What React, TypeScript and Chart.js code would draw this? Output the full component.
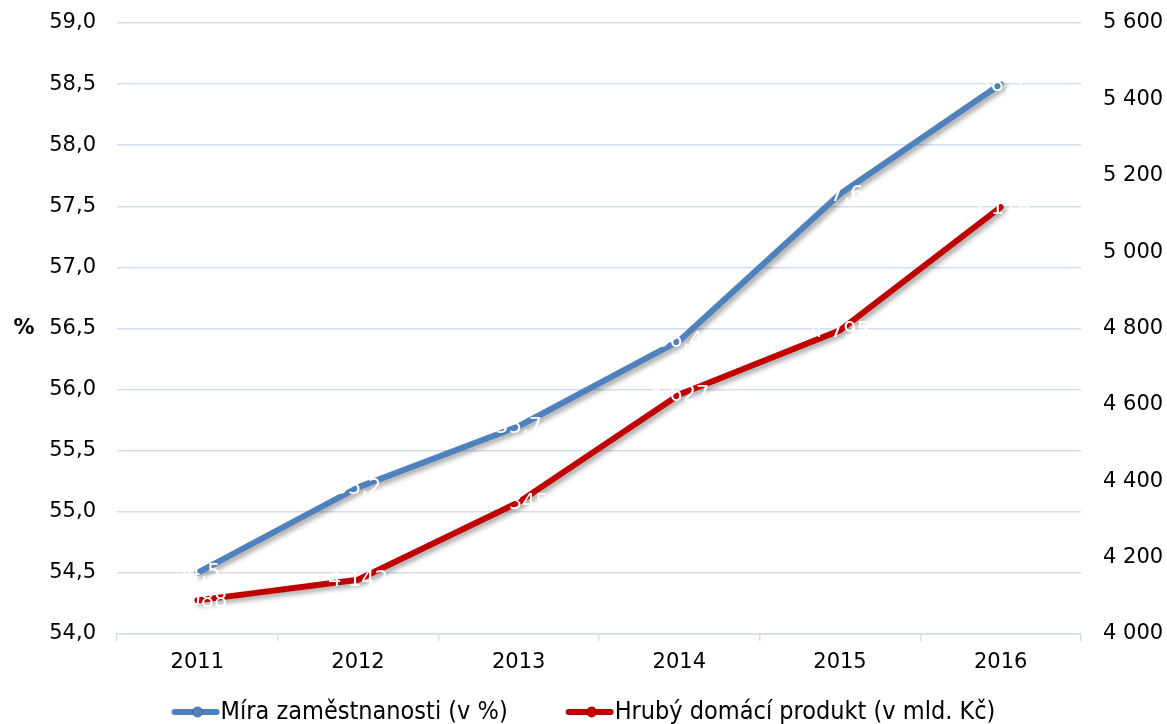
import React, { useEffect, useRef } from 'react';
import { Chart, registerables } from 'chart.js';

Chart.register(...registerables);

const years = ['2011', '2012', '2013', '2014', '2015', '2016'];
const employment = [54.5, 55.2, 55.7, 56.4, 57.6, 58.5];
const gdp = [4088, 4142, 4345, 4627, 4795, 5118];
const seriesNames = ['Míra zaměstnanosti (v %)', 'Hrubý domácí produkt (v mld. Kč)'];
const leftTitle = '%';

const BLUE = '#4f81bd';
const RED = '#c00000';
const GRID = '#d3def0';
const FONT = "'DejaVu Sans', Verdana, sans-serif";

const fmtPct = (v: number) => v.toFixed(1).replace('.', ',');
const fmtThousands = (v: number) => {
  const s = Math.round(v).toString();
  return s.replace(/\B(?=(\d{3})+(?!\d))/g, ' ');
};

const shadowPlugin = {
  id: 'lineShadow',
  beforeDatasetDraw(chart: any) {
    const ctx = chart.ctx;
    ctx.save();
    ctx.shadowColor = 'rgba(0,0,0,0.35)';
    ctx.shadowBlur = 5;
    ctx.shadowOffsetX = 3;
    ctx.shadowOffsetY = 3;
  },
  afterDatasetDraw(chart: any) {
    chart.ctx.restore();
  },
};

const labelsPlugin = {
  id: 'valueLabels',
  afterDatasetsDraw(chart: any) {
    const ctx = chart.ctx;
    ctx.save();
    ctx.font = `21px ${FONT}`;
    ctx.fillStyle = '#ffffff';
    ctx.textAlign = 'center';
    ctx.textBaseline = 'middle';
    chart.data.datasets.forEach((ds: any, i: number) => {
      const meta = chart.getDatasetMeta(i);
      meta.data.forEach((pt: any, j: number) => {
        const v = ds.data[j] as number;
        const txt = i === 0 ? fmtPct(v) : fmtThousands(v);
        ctx.fillText(txt, pt.x, pt.y + 1);
      });
    });
    ctx.restore();
  },
};

const extrasPlugin = {
  id: 'extras',
  afterDraw(chart: any) {
    const ctx = chart.ctx;
    const area = chart.chartArea;
    ctx.save();
    ctx.font = `bold 21px ${FONT}`;
    ctx.fillStyle = '#000';
    ctx.textAlign = 'center';
    ctx.textBaseline = 'middle';
    ctx.fillText(leftTitle, 24, (area.top + area.bottom) / 2);

    const y = 712;
    const lineLen = 48;
    const gapText = 1;
    const itemGap = 58;
    ctx.font = `25px 'DejaVu Sans Condensed', 'DejaVu Sans', sans-serif`;
    const widths = seriesNames.map((n) => ctx.measureText(n).width);
    const total = widths.reduce((a, b) => a + b, 0) + 2 * (lineLen + gapText) + itemGap;
    let x = chart.width / 2 - total / 2;
    const colors = [BLUE, RED];
    seriesNames.forEach((name, i) => {
      ctx.strokeStyle = colors[i];
      ctx.lineWidth = 6;
      ctx.lineCap = 'round';
      ctx.beginPath();
      ctx.moveTo(x + 3, y);
      ctx.lineTo(x + lineLen - 3, y);
      ctx.stroke();
      ctx.beginPath();
      ctx.arc(x + lineLen / 2 + 2, y, 5, 0, Math.PI * 2);
      ctx.fillStyle = colors[i];
      ctx.fill();
      ctx.lineWidth = 1;
      ctx.strokeStyle = i === 0 ? '#3a6aa6' : '#a00000';
      ctx.stroke();
      ctx.fillStyle = '#000';
      ctx.textAlign = 'left';
      ctx.textBaseline = 'middle';
      ctx.fillText(name, x + lineLen + gapText, y);
      x += lineLen + gapText + widths[i] + itemGap;
    });
    ctx.restore();
  },
};

const fitV = (w: number) => (s: any) => {
  s.width = w;
  s.paddingTop = 0;
  s.paddingBottom = 0;
};

export default function App() {
  const ref = useRef<HTMLCanvasElement>(null);
  useEffect(() => {
    if (!ref.current) return;
    const chart = new Chart(ref.current, {
      type: 'line',
      data: {
        labels: years,
        datasets: [
          {
            label: seriesNames[0],
            data: employment,
            borderColor: BLUE,
            backgroundColor: BLUE,
            borderWidth: 6,
            pointRadius: 0,
            borderCapStyle: 'round',
            borderJoinStyle: 'round',
            yAxisID: 'y',
            tension: 0,
          },
          {
            label: seriesNames[1],
            data: gdp,
            borderColor: RED,
            backgroundColor: RED,
            borderWidth: 6,
            pointRadius: 0,
            borderCapStyle: 'round',
            borderJoinStyle: 'round',
            yAxisID: 'y1',
            tension: 0,
          },
        ],
      },
      options: {
        animation: false,
        responsive: true,
        maintainAspectRatio: false,
        layout: { padding: { top: 23, bottom: 0, left: 0, right: 0 } },
        plugins: {
          legend: { display: false },
          tooltip: { enabled: false },
        },
        scales: {
          x: {
            type: 'category',
            offset: true,
            grid: {
              offset: true,
              drawOnChartArea: false,
              drawTicks: true,
              tickLength: 7,
              color: GRID,
              lineWidth: 1.5,
            },
            border: { display: true, color: GRID, width: 1.5 },
            ticks: { color: '#000', font: { family: FONT, size: 21 }, padding: 9, maxRotation: 0 },
            afterFit: (s: any) => {
              s.height = 90;
              s.paddingLeft = 0;
              s.paddingRight = 0;
            },
          },
          y: {
            position: 'left',
            min: 54,
            max: 59,
            ticks: {
              stepSize: 0.5,
              color: '#000',
              font: { family: FONT, size: 21 },
              padding: 21,
              callback: (v: any) => fmtPct(Number(v)),
            },
            grid: { color: GRID, lineWidth: 1.5, drawTicks: false },
            border: { display: false },
            afterFit: fitV(117),
          },
          y1: {
            position: 'right',
            min: 4000,
            max: 5600,
            ticks: {
              stepSize: 200,
              color: '#000',
              font: { family: FONT, size: 21 },
              padding: 22,
              callback: (v: any) => fmtThousands(Number(v)),
            },
            grid: { drawOnChartArea: false, drawTicks: false },
            border: { display: false },
            afterFit: fitV(86),
          },
        },
      },
      plugins: [shadowPlugin, labelsPlugin, extrasPlugin],
    });
    return () => chart.destroy();
  }, []);
  return (
    <div style={{ position: 'fixed', left: 0, top: 0, width: 1167, height: 724, background: '#fff' }}>
      <canvas ref={ref} />
    </div>
  );
}
